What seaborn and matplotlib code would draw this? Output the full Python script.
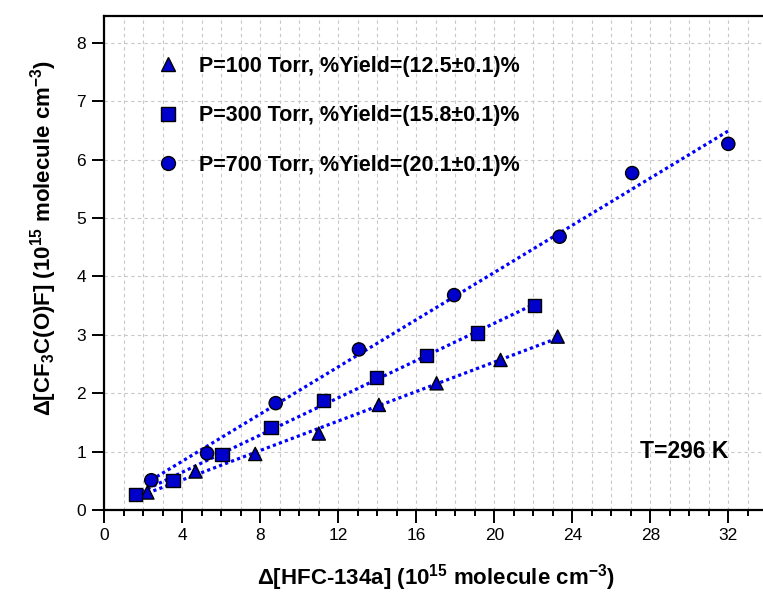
import numpy as np
import pandas as pd
import matplotlib
matplotlib.use("Agg")
import matplotlib.pyplot as plt
from matplotlib.lines import Line2D
from matplotlib.ticker import MultipleLocator
import seaborn as sns

# ---- data ----
x_100 = [2.21, 4.68, 7.74, 11.00, 14.08, 17.04, 20.32, 23.25]
y_100 = [0.30, 0.66, 0.96, 1.31, 1.80, 2.17, 2.57, 2.97]

x_300 = [1.62, 3.52, 6.04, 8.55, 11.24, 13.96, 16.54, 19.13, 22.07]
y_300 = [0.27, 0.51, 0.95, 1.41, 1.87, 2.27, 2.64, 3.03, 3.50]

x_700 = [2.41, 5.27, 8.79, 13.06, 17.94, 23.35, 27.07, 32.0]
y_700 = [0.51, 0.97, 1.83, 2.75, 3.68, 4.68, 5.77, 6.27]

series_labels = [
    "P=100 Torr, %Yield=(12.5\u00b10.1)%",
    "P=300 Torr, %Yield=(15.8\u00b10.1)%",
    "P=700 Torr, %Yield=(20.1\u00b10.1)%",
]
x_ticks = [0, 4, 8, 12, 16, 20, 24, 28, 32]
y_ticks = [0, 1, 2, 3, 4, 5, 6, 7, 8]
annotation = "T=296 K"

# ---- build table ----
frames = []
for lab, xs, ys in zip(series_labels, [x_100, x_300, x_700], [y_100, y_300, y_700]):
    frames.append(pd.DataFrame({"x": xs, "y": ys, "series": lab}))
df = pd.concat(frames, ignore_index=True)

sns.set_theme(style="white")
plt.rcParams["font.family"] = ["Liberation Sans", "DejaVu Sans"]
plt.rcParams["mathtext.fontset"] = "custom"
plt.rcParams["mathtext.rm"] = "Liberation Sans"
plt.rcParams["mathtext.bf"] = "Liberation Sans:bold"
plt.rcParams["mathtext.default"] = "bf"
plt.rcParams["text.color"] = "black"
plt.rcParams["axes.labelcolor"] = "black"
plt.rcParams["xtick.color"] = "black"
plt.rcParams["ytick.color"] = "black"

fig = plt.figure(figsize=(7.63, 5.99), dpi=100)
ax = fig.add_axes([104.3 / 763, 89 / 599, 663 / 763, 494 / 599])

fill = "#0000cc"
line_col = "#0000ff"
marker_map = {series_labels[0]: "^", series_labels[1]: "s", series_labels[2]: "o"}

# fit lines
for lab in series_labels:
    sub = df[df.series == lab]
    sns.regplot(data=sub, x="x", y="y", ax=ax, scatter=False, ci=None, truncate=True,
                line_kws=dict(color=line_col, lw=2.3, ls=(0, (1.0, 1.0)), zorder=3))

sns.scatterplot(data=df, x="x", y="y", style="series", markers=marker_map,
                color=fill, edgecolor="black", linewidth=1.0, s=90, ax=ax,
                legend=False, zorder=4)

ax.set_xlim(0, 34)
ax.set_ylim(0, 8.46)
ax.set_xticks(x_ticks)
ax.set_yticks(y_ticks)
ax.xaxis.set_minor_locator(MultipleLocator(1))

ax.grid(True, which="both", axis="x", color="#c8c8c8", lw=0.8, ls=(0, (3, 3)))
ax.grid(True, which="major", axis="y", color="#c8c8c8", lw=0.8, ls=(0, (3, 3)))
ax.set_axisbelow(True)

for side in ["left", "bottom", "top"]:
    ax.spines[side].set_visible(True)
    ax.spines[side].set_color("black")
    ax.spines[side].set_linewidth(1.6)
ax.spines["right"].set_visible(False)

ax.tick_params(axis="x", which="major", direction="out", length=9, width=1.4,
               labelsize=12.5, pad=4, colors="black", bottom=True, top=False)
ax.tick_params(axis="x", which="minor", direction="out", length=4.5, width=1.4,
               bottom=True, top=False)
ax.tick_params(axis="y", which="major", direction="out", length=9, width=1.4,
               labelsize=12.5, pad=4, colors="black", left=True)

ax.set_xlabel(r"$\Delta$[HFC-134a] (10$^{15}$ molecule cm$^{-3}$)",
              fontsize=16, fontweight="bold", color="black")
ax.set_ylabel(r"$\Delta$[CF$_3$C(O)F] (10$^{15}$ molecule cm$^{-3}$)",
              fontsize=16, fontweight="bold", color="black")
ax.xaxis.set_label_coords(0.5, -0.105)
ax.yaxis.set_label_coords(-0.068, 0.55)

handles = [Line2D([], [], ls="none", marker=marker_map[l], markersize=10,
                  markerfacecolor=fill, markeredgecolor="black", markeredgewidth=1.0)
           for l in series_labels]
leg = ax.legend(handles, series_labels, loc="upper left",
                bbox_to_anchor=(157 / 763, 1 - 56 / 599), bbox_transform=fig.transFigure,
                frameon=False, prop=dict(family="Liberation Sans", weight="bold", size=15.5),
                handlelength=1.0, handletextpad=0.95, labelspacing=1.32, borderpad=0,
                borderaxespad=0)
for t in leg.get_texts():
    t.set_color("black")

ax.text(32.0, 1.0, annotation, ha="right", va="center", fontsize=16.5,
        fontweight="bold", color="black")

fig.savefig("out.png", dpi=100)
